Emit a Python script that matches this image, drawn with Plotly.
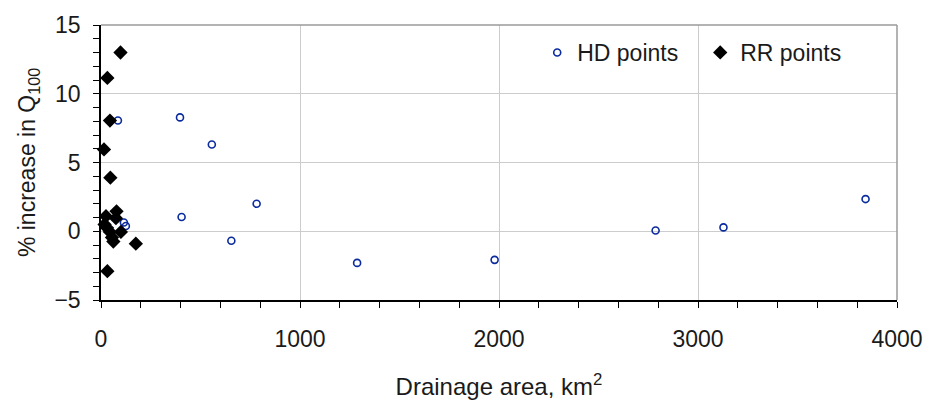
import plotly.graph_objects as go

hd_x = [85, 397, 557, 405, 655, 782, 115, 125, 1287, 1978, 2787, 3128, 3842]
hd_y = [8.05, 8.28, 6.31, 1.04, -0.69, 2.0, 0.64, 0.38, -2.3, -2.08, 0.05, 0.28, 2.34]

rr_x = [98, 32, 45, 15, 47, 25, 78, 75, 18, 30, 45, 55, 62, 100, 175, 32]
rr_y = [13.0, 11.15, 8.05, 5.95, 3.9, 1.1, 1.45, 0.95, 0.5, 0.25, -0.05, -0.45, -0.75, -0.05, -0.9, -2.9]

font_family = "Liberation Sans, Arial, sans-serif"

fig = go.Figure()
fig.add_trace(go.Scatter(
    x=hd_x, y=hd_y, mode="markers", name="HD points",
    marker=dict(symbol="circle-open", size=7, color="#0a2a9e", line=dict(width=1.6, color="#0a2a9e")),
    cliponaxis=False,
))
fig.add_trace(go.Scatter(
    x=rr_x, y=rr_y, mode="markers", name="RR points",
    marker=dict(symbol="diamond", size=11, color="black"),
    cliponaxis=False,
))

fig.update_layout(
    width=935, height=408,
    margin=dict(l=101, r=31, t=17, b=108),
    paper_bgcolor="white", plot_bgcolor="white",
    font=dict(family=font_family, size=23, color="#1a1a1a"),
    showlegend=True,
    legend=dict(orientation="h", x=0.548, y=0.9, xanchor="left", yanchor="middle",
                font=dict(size=23, color="#1a1a1a"), bgcolor="rgba(0,0,0,0)",
                entrywidth=118, entrywidthmode="pixels"),
    shapes=[
        dict(type="line", xref="paper", yref="paper", x0=0, x1=1, y0=1, y1=1,
             line=dict(color="#9a9a9a", width=1.5)),
        dict(type="line", xref="paper", yref="paper", x0=1, x1=1, y0=0, y1=1,
             line=dict(color="#9a9a9a", width=1.5)),
    ],
)

fig.update_xaxes(
    range=[0, 4000], dtick=1000, tick0=0,
    showgrid=True, gridcolor="#cccccc", gridwidth=1,
    zeroline=False, showline=True, linecolor="black", linewidth=1.5,
    ticks="outside", ticklen=6, tickcolor="black", tickwidth=1,
    minor=dict(dtick=200, ticks="outside", ticklen=6, tickcolor="black", showgrid=False),
    tickfont=dict(size=23), ticklabelstandoff=12,
    title=dict(text="Drainage area, km<sup>2</sup>", font=dict(size=24), standoff=27),
)
fig.update_yaxes(
    range=[-5, 15], dtick=5, tick0=0,
    showgrid=True, gridcolor="#cccccc", gridwidth=1,
    zeroline=False, showline=True, linecolor="black", linewidth=1.5,
    ticks="outside", ticklen=6, tickcolor="black", tickwidth=1,
    minor=dict(dtick=1, ticks="outside", ticklen=6, tickcolor="black", showgrid=False),
    tickfont=dict(size=23), ticklabelstandoff=8,
    title=dict(text="% increase in Q<sub>100</sub>", font=dict(size=23), standoff=12),
)

fig.write_html("out.html")
